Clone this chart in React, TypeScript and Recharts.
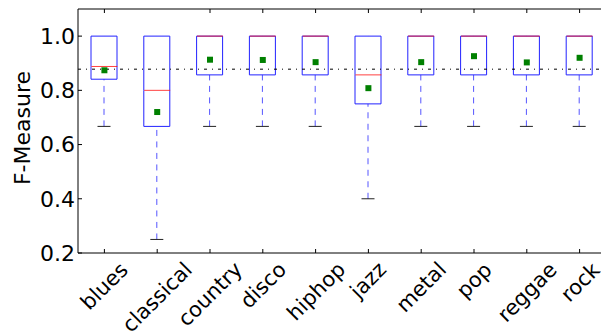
import { Bar, ComposedChart, Label, ReferenceLine, Scatter, XAxis, YAxis } from "recharts";

const genres = ["blues", "classical", "country", "disco", "hiphop", "jazz", "metal", "pop", "reggae", "rock"];
const whiskerLow = [0.667, 0.25, 0.667, 0.667, 0.667, 0.4, 0.667, 0.667, 0.667, 0.667];
const q1 = [0.841, 0.667, 0.857, 0.857, 0.857, 0.75, 0.857, 0.857, 0.857, 0.857];
const median = [0.888, 0.8, 1.0, 1.0, 1.0, 0.857, 1.0, 1.0, 1.0, 1.0];
const q3 = [1.0, 1.0, 1.0, 1.0, 1.0, 1.0, 1.0, 1.0, 1.0, 1.0];
const whiskerHigh = [1.0, 1.0, 1.0, 1.0, 1.0, 1.0, 1.0, 1.0, 1.0, 1.0];
const means = [0.874, 0.72, 0.913, 0.912, 0.904, 0.808, 0.904, 0.926, 0.903, 0.92];
const overallMean = 0.878;
const yTicks = [0.2, 0.4, 0.6, 0.8, 1.0];

const data = genres.map((name, i) => ({
  name,
  base: whiskerLow[i],
  lowWhisker: q1[i] - whiskerLow[i],
  lowBox: median[i] - q1[i],
  highBox: q3[i] - median[i],
  highWhisker: whiskerHigh[i] - q3[i],
  median: median[i],
  mean: means[i],
}));

const FONT = "DejaVu Sans";
const BOX_W = 26;
const LABEL_SIZE = 21;
const PLOT_BOTTOM = 253;

let ctx: CanvasRenderingContext2D | null = null;
function textWidth(s: string, size: number) {
  if (!ctx) ctx = document.createElement("canvas").getContext("2d");
  if (!ctx) return s.length * size * 0.6;
  ctx.font = `${size}px "${FONT}"`;
  return ctx.measureText(s).width;
}

// matplotlib style: rotated 45deg, bounding box centred under the tick
function GenreTick(props: any) {
  const { x, payload } = props;
  const w = textWidth(String(payload.value), LABEL_SIZE);
  const half = ((w + LABEL_SIZE * 1.05) * Math.SQRT1_2) / 2;
  const cx = Math.round(Number(x));
  const cy = Math.round(PLOT_BOTTOM + 5 + half);
  return (
    <g transform={`translate(${cx} ${cy})`}>
      <g transform="rotate(-45)">
        <text x={0} y={0} textAnchor="middle" dy="0.35em" fontFamily={FONT} fontSize={LABEL_SIZE} fill="#000">
          {payload.value}
        </text>
      </g>
    </g>
  );
}

const Whisker = (cap: boolean) => (props: any) => {
  const { x, y, width, height } = props;
  const cx = x + width / 2;
  const bottom = y + height;
  return (
    <g>
      <line x1={cx} x2={cx} y1={bottom} y2={y} stroke="#5555ff" strokeDasharray="6 5.5" />
      {cap && <line x1={cx - width / 4} x2={cx + width / 4} y1={bottom} y2={bottom} stroke="#222" />}
    </g>
  );
};

const LowBox = (props: any) => {
  const { x, y, width, height } = props;
  return <path d={`M${x},${y} V${y + height} H${x + width} V${y}`} fill="none" stroke="#2222ff" />;
};

const HighBox = (props: any) => {
  const { x, y, width, height } = props;
  return <path d={`M${x},${y + height} V${y} H${x + width} V${y + height}`} fill="none" stroke="#2222ff" />;
};

const MedianMark = (props: any) => {
  const { cx, cy } = props;
  return <line x1={cx - BOX_W / 2} x2={cx + BOX_W / 2} y1={cy} y2={cy} stroke="#ff0000" strokeOpacity={0.75} />;
};

const MeanMark = (props: any) => {
  const { cx, cy } = props;
  return <rect x={cx - 3} y={cy - 3} width={6} height={6} fill="#008000" />;
};

export default function App() {
  return (
    <div style={{ position: "absolute", left: 0, top: 0, width: 601, height: 334, overflow: "hidden", background: "#fff" }}>
      <ComposedChart width={606} height={334} data={data} margin={{ top: 0, right: 0, bottom: 0, left: 0 }}>
        <XAxis
          xAxisId="top"
          orientation="top"
          dataKey="name"
          height={9}
          tickSize={-4}
          tick={() => <g />}
          axisLine={{ stroke: "#000" }}
          tickLine={{ stroke: "#000" }}
        />
        <XAxis
          dataKey="name"
          height={81}
          tickSize={-4}
          interval={0}
          tick={(p: any) => <GenreTick {...p} />}
          axisLine={{ stroke: "#000" }}
          tickLine={{ stroke: "#000" }}
        />
        <YAxis
          width={78}
          domain={[0.2, 1.1]}
          ticks={yTicks}
          allowDataOverflow
          tickSize={-4}
          tickMargin={7}
          tickFormatter={(v: number) => v.toFixed(1)}
          tick={{ fill: "#000", fontSize: 22, fontFamily: FONT }}
          axisLine={{ stroke: "#000" }}
          tickLine={{ stroke: "#000" }}
        >
          <Label
            content={() => (
              <text
                x={22}
                y={128}
                transform="rotate(-90 22 128)"
                textAnchor="middle"
                dominantBaseline="central"
                fontFamily={FONT}
                fontSize={22}
                fill="#000"
              >
                F-Measure
              </text>
            )}
          />
        </YAxis>
        <Bar dataKey="base" stackId="box" barSize={BOX_W} shape={() => <g />} isAnimationActive={false} />
        <Bar dataKey="lowWhisker" stackId="box" barSize={BOX_W} shape={Whisker(true)} isAnimationActive={false} />
        <Bar dataKey="lowBox" stackId="box" barSize={BOX_W} shape={LowBox} isAnimationActive={false} />
        <Bar dataKey="highBox" stackId="box" barSize={BOX_W} shape={HighBox} isAnimationActive={false} />
        <Bar dataKey="highWhisker" stackId="box" barSize={BOX_W} shape={Whisker(false)} isAnimationActive={false} />
        <ReferenceLine y={overallMean} stroke="#000" strokeDasharray="3 5 1 5" />
        <Scatter dataKey="median" shape={MedianMark} isAnimationActive={false} />
        <Scatter dataKey="mean" shape={MeanMark} isAnimationActive={false} />
      </ComposedChart>
    </div>
  );
}
